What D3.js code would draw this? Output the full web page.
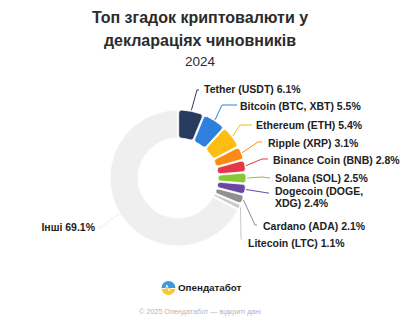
<!DOCTYPE html>
<html>
<head>
<meta charset="utf-8">
<script src="https://cdn.jsdelivr.net/npm/d3@7/dist/d3.min.js"></script>
<style>
  html, body { margin: 0; padding: 0; background: #fff; }
  svg { display: block; font-family: "Liberation Sans", Arial, sans-serif; }
</style>
</head>
<body>
<svg id="chart" width="400" height="324"></svg>
<script>
// ---- data ----
const categories = [
  "Tether (USDT)", "Bitcoin (BTC, XBT)", "Ethereum (ETH)", "Ripple (XRP)",
  "Binance Coin (BNB)", "Solana (SOL)", "Dogecoin (DOGE, XDG)", "Cardano (ADA)",
  "Litecoin (LTC)", "Інші"
];
const shares = [6.1, 5.5, 5.4, 3.1, 2.8, 2.5, 2.4, 2.1, 1.1, 69.1];
const colors = ["#283a5e", "#2e80dc", "#fdbd12", "#fa8a14", "#e63747", "#86c936", "#6a47a3", "#8f8f8f", "#c9c9c9", "#efefef"];
const titleLines = ["Топ згадок криптовалюти у", "деклараціях чиновників"];
const subtitle = "2024";

// ---- layout (label anchors, not data) ----
const labelLayout = [
  { elbow: [197, 90],  end: [199, 90],  x: 204, y: 90,  lines: ["Tether (USDT) 6.1%"] },
  { elbow: [222, 105], end: [237, 105], x: 240, y: 107, lines: ["Bitcoin (BTC, XBT) 5.5%"] },
  { elbow: [240, 125], end: [252, 125], x: 256, y: 126, lines: ["Ethereum (ETH) 5.4%"] },
  { elbow: [258, 142], end: [262, 142], x: 268, y: 144, lines: ["Ripple (XRP) 3.1%"] },
  { elbow: [262, 159], end: [268, 159], x: 273, y: 161, lines: ["Binance Coin (BNB) 2.8%"] },
  { elbow: [262, 177], end: [270, 178], x: 275, y: 179, lines: ["Solana (SOL) 2.5%"] },
  { elbow: [268, 193], end: [269, 193], x: 275, y: 192, lines: ["Dogecoin (DOGE,", "XDG) 2.4%"] },
  { elbow: [255, 225], end: [257, 225], x: 263, y: 227, lines: ["Cardano (ADA) 2.1%"] },
  { elbow: [241, 239], end: [242, 239], x: 248, y: 244, lines: ["Litecoin (LTC) 1.1%"] },
  { elbow: [100, 228], end: [98, 228],  x: 95,  y: 228, lines: ["Інші 69.1%"], anchor: "end" }
];

const svg = d3.select("#chart");
const W = 400, H = 324;
const cx = 178, cy = 178;
const rIn = 40, rOut = 68;

// title
const title = svg.append("g").attr("text-anchor", "middle").attr("fill", "#2b2b2b");
titleLines.forEach((t, i) => {
  title.append("text").attr("x", W / 2).attr("y", 23 + i * 23).attr("font-size", 16).attr("font-weight", 700).text(t);
});
title.append("text").attr("x", W / 2).attr("y", 66).attr("font-size", 13.5).attr("font-weight", 400).text(subtitle);

const data = categories.map((c, i) => ({ name: c, value: shares[i], color: colors[i], layout: labelLayout[i] }));

const pie = d3.pie().sort(null).value(d => d.value).startAngle(0).endAngle(2 * Math.PI).padAngle(0.018);
const arcs = pie(data);

const arc = d3.arc().innerRadius(rIn).outerRadius(rOut).cornerRadius(3);
const arcOther = d3.arc().innerRadius(rIn).outerRadius(rOut).cornerRadius(0);

const g = svg.append("g").attr("transform", `translate(${cx},${cy})`);
g.selectAll("path.slice").data(arcs).join("path")
  .attr("class", "slice")
  .attr("d", d => d.index === arcs.length - 1 ? arcOther(d) : arc(d))
  .attr("fill", d => d.data.color)
  .attr("stroke", "#fff")
  .attr("stroke-width", 0.8);

// leader lines
const lead = svg.append("g").attr("fill", "none").attr("stroke-width", 1);
const lineGen = d3.line();
arcs.forEach(d => {
  const mid = (d.startAngle + d.endAngle) / 2;
  const r = rOut + 1;
  const p0 = [cx + r * Math.sin(mid), cy - r * Math.cos(mid)];
  const L = d.data.layout;
  lead.append("path")
    .attr("d", lineGen([p0, L.elbow, L.end]))
    .attr("stroke", d.index === arcs.length - 1 ? "#ececec" : d.data.color);
});

// labels
const lab = svg.append("g").attr("fill", "#222").attr("font-size", 10.5).attr("font-weight", 700);
arcs.forEach(d => {
  const L = d.data.layout;
  const t = lab.append("text")
    .attr("x", L.x).attr("y", L.y)
    .attr("dominant-baseline", "middle")
    .attr("text-anchor", L.anchor || "start");
  L.lines.forEach((ln, i) => {
    t.append("tspan").attr("x", L.x).attr("dy", i === 0 ? 0 : 11.5).text(ln);
  });
});

// footer logo
const logo = svg.append("g").attr("transform", "translate(168.5,288)");
logo.append("path").attr("d", d3.arc()({ innerRadius: 0, outerRadius: 7, startAngle: -Math.PI / 2, endAngle: Math.PI / 2 })).attr("fill", "#3b9ae1");
logo.append("path").attr("d", d3.arc()({ innerRadius: 0, outerRadius: 7, startAngle: Math.PI / 2, endAngle: 3 * Math.PI / 2 })).attr("fill", "#f6c838");
logo.append("path").attr("d", "M-7,0.5 L-3,0.5 L-1.5,-3 L0.5,3 L2,0.5 L7,0.5").attr("fill", "none").attr("stroke", "#fff").attr("stroke-width", 0.9);

svg.append("text").attr("x", 178).attr("y", 288).attr("dominant-baseline", "middle")
  .attr("font-size", 9.8).attr("font-weight", 700).attr("fill", "#1c1c1c").text("Опендатабот");

svg.append("text").attr("x", W / 2).attr("y", 312).attr("text-anchor", "middle").attr("dominant-baseline", "middle")
  .attr("font-size", 7.2).attr("fill", "#b5b5b5").text("© 2025 Опендатабот — відкриті дані");
</script>
</body>
</html>
